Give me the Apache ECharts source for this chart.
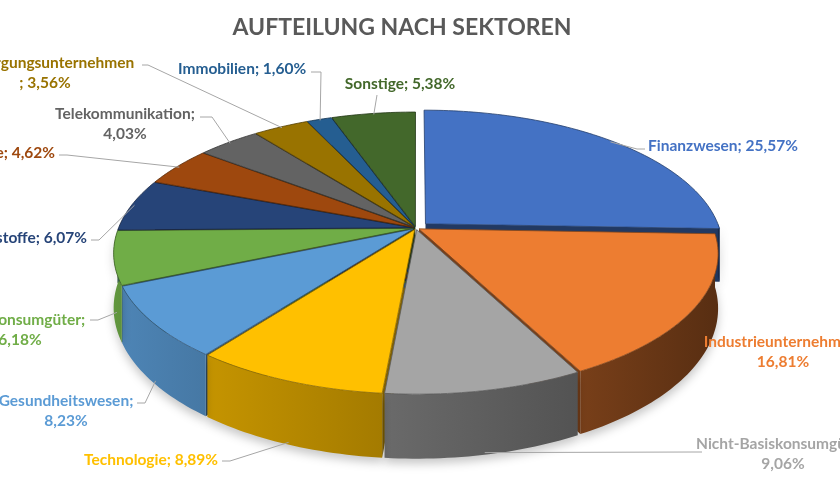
<!DOCTYPE html>
<html>
<head>
<meta charset="utf-8">
<script src="https://cdn.jsdelivr.net/npm/echarts@6/dist/echarts.min.js"></script>
<style>
html, body { margin: 0; padding: 0; background: #fff; }
#chart { width: 840px; height: 480px; }
</style>
</head>
<body>
<div id="chart"></div>
<script>
// data (clockwise from 12 o'clock)
let sectors = ['Finanzwesen', 'Industrieunternehmen', 'Nicht-Basiskonsumgüter', 'Technologie',
    'Gesundheitswesen', 'Basiskonsumgüter', 'Rohstoffe', 'Energie', 'Telekommunikation',
    'Versorgungsunternehmen', 'Immobilien', 'Sonstige'];
let shares = [25.57, 16.81, 9.06, 8.89, 8.23, 6.18, 6.07, 4.62, 4.03, 3.56, 1.60, 5.38];

// styling
let colors = ['#4472C4', '#ED7D31', '#A5A5A5', '#FFC000', '#5B9BD5', '#70AD47',
    '#264478', '#9E480E', '#636363', '#997300', '#255E91', '#43682B'];
let explode = [0.045, 0.012, 0.012, 0.012, 0.012, 0.012, 0.012, 0.012, 0.012, 0.012, 0.012, 0.012];
// label text spot: x, y, align, leader end x, leader end y, elbow length (0 = none)
let labelSpots = [
    [648, 146, 'left', 645, 149, 8],
    [783, 352, 'center', null, null, 0],
    [783, 454, 'center', 702, 452, 8],
    [218, 460, 'right', 222, 461, 8],
    [66, 411, 'center', 137, 403, 8],
    [20, 330, 'center', 90, 320, 8],
    [87, 238, 'right', 91, 240, 8],
    [55, 153, 'right', 59, 155, 8],
    [125, 124, 'center', 200, 117, 12],
    [45, 73, 'center', 142, 65, 6],
    [178, 69, 'left', 311, 72, 10],
    [400, 84, 'center', 377, 95, 0]
];
let labelBreak = [false, true, true, false, true, true, false, false, true, true, false, false];

// 3d pie geometry
let cx = 416, cy = 228, R = 294, Ry = 135, persp = 0.176, depth = 53;

let total = shares.reduce((a, b) => a + b, 0);
let starts = [];
let acc = 0;
shares.forEach(v => { starts.push(acc); acc += v; });

function proj(X, Z, h) {
    let s = 1 / (1 - persp * Z);
    return [cx + R * X * s, cy + Ry * Z * s + h * s];
}
function arc(a1, a2, h, ex, ez) {
    let pts = [];
    let n = Math.max(2, Math.ceil((a2 - a1) / 0.02));
    for (let k = 0; k <= n; k++) {
        let t = a1 + (a2 - a1) * k / n;
        pts.push(proj(ex + Math.sin(t), ez - Math.cos(t), h));
    }
    return pts;
}
function shade(hex, f) {
    let c = parseInt(hex.slice(1), 16);
    let r = Math.round(((c >> 16) & 255) * f), g = Math.round(((c >> 8) & 255) * f), b = Math.round((c & 255) * f);
    return 'rgb(' + r + ',' + g + ',' + b + ')';
}
function fmt(v) {
    return v.toFixed(2).replace('.', ',') + '%';
}

function renderItem(params, api) {
    let i = params.dataIndex;
    let v = api.value(0);
    let a1 = starts[i] / total * 2 * Math.PI;
    let a2 = a1 + v / total * 2 * Math.PI;
    let am = (a1 + a2) / 2;
    let ex = explode[i] * Math.sin(am), ez = -explode[i] * Math.cos(am);
    let col = colors[i];
    let children = [];

    // radial faces
    let faces = [];
    if (Math.sin(a2) > 0) faces.push(a2);
    if (Math.sin(a1) < 0) faces.push(a1);
    faces.forEach(t => {
        let rimX = ex + Math.sin(t), rimZ = ez - Math.cos(t);
        children.push({
            type: 'polygon', z2: 1,
            shape: { points: [proj(ex, ez, 0), proj(rimX, rimZ, 0), proj(rimX, rimZ, depth), proj(ex, ez, depth)] },
            style: { fill: shade(col, 0.5) }
        });
    });

    // outer wall (front half only)
    let b1 = Math.max(a1, Math.PI / 2), b2 = Math.min(a2, 3 * Math.PI / 2);
    if (b2 > b1) {
        let top = arc(b1, b2, 0, ex, ez);
        let bot = arc(b1, b2, depth, ex, ez).reverse();
        let fR = 0.62 - 0.25 * Math.sin(b1), fL = 0.62 - 0.25 * Math.sin(b2);
        children.push({
            type: 'polygon', z2: 2,
            shape: { points: top.concat(bot) },
            style: {
                fill: new echarts.graphic.LinearGradient(0, 0, 1, 0, [
                    { offset: 0, color: shade(col, fL) },
                    { offset: 1, color: shade(col, fR) }
                ]),
                shadowBlur: 10, shadowColor: 'rgba(0,0,0,0.22)', shadowOffsetY: 5
            }
        });
    }

    // top face
    children.push({
        type: 'polygon', z2: 3,
        shape: { points: [proj(ex, ez, 0)].concat(arc(a1, a2, 0, ex, ez)) },
        style: { fill: col, stroke: shade(col, 0.55), lineWidth: 0.8 }
    });

    // label + leader
    let sp = labelSpots[i];
    if (sp[3] !== null) {
        let Zm = ez - Math.cos(am);
        let st = proj(ex + Math.sin(am) * 0.99, ez - Math.cos(am) * 0.99, Zm > 0 ? depth : 0);
        let pts = [st];
        if (sp[5] > 0) pts.push([sp[3] + (sp[3] < st[0] ? sp[5] : -sp[5]), sp[4]]);
        pts.push([sp[3], sp[4]]);
        children.push({
            type: 'polyline', z2: 4,
            shape: { points: pts },
            style: { stroke: '#a6a6a6', lineWidth: 1, fill: null }
        });
    }
    let name = sectors[i];
    let txt = labelBreak[i]
        ? (name === 'Versorgungsunternehmen' ? name + '\n; ' + fmt(v) : name + ';\n' + fmt(v))
        : name + '; ' + fmt(v);
    children.push({
        type: 'text', z2: 5,
        style: {
            text: txt, x: sp[0], y: sp[1],
            fill: col, align: sp[2], verticalAlign: 'middle',
            font: 'bold 15.5px Lato', lineHeight: 20
        }
    });

    return { type: 'group', children: children };
}

let chart = echarts.init(document.getElementById('chart'));
chart.setOption({
    animation: false,
    title: {
        text: 'AUFTEILUNG NACH SEKTOREN',
        left: 397, top: 11, textAlign: 'center',
        textStyle: { fontFamily: 'Lato', fontSize: 23, fontWeight: 'bold', color: '#595959' }
    },
    series: [{
        type: 'custom',
        coordinateSystem: 'none',
        renderItem: renderItem,
        data: shares.map(v => [v])
    }]
});
</script>
</body>
</html>
